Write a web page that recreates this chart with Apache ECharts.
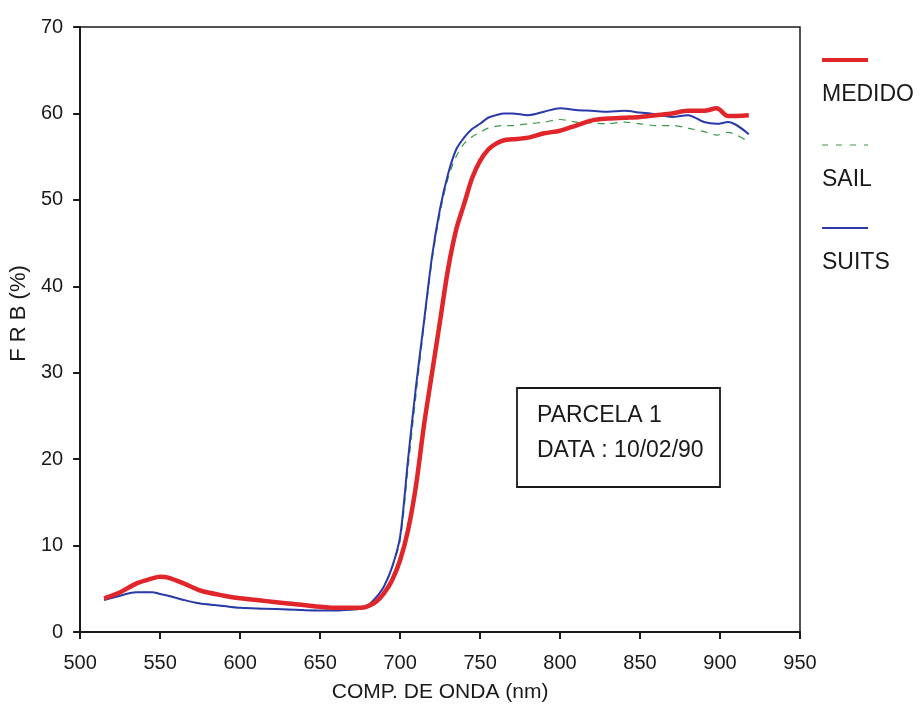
<!DOCTYPE html>
<html>
<head>
<meta charset="utf-8">
<script src="https://cdn.jsdelivr.net/npm/echarts@6/dist/echarts.min.js"></script>
<style>html,body{margin:0;padding:0;background:#fff}#c{width:920px;height:708px}</style>
</head>
<body>
<div id="c"></div>
<script>
const wavelengths = [515,525,535,545,550,555,565,575,590,600,615,630,645,660,670,675,680,685,690,695,700,705,710,715,720,725,730,735,740,745,750,755,760,765,770,780,790,800,810,820,830,840,850,860,870,880,890,898,905,918];
const medido = [3.9,4.6,5.6,6.2,6.4,6.3,5.6,4.8,4.2,3.9,3.6,3.3,3.0,2.8,2.8,2.8,3.0,3.5,4.5,6.0,8.3,11.8,17,24,30,36,42,46.5,49.5,52.5,54.5,55.8,56.5,56.9,57.0,57.2,57.7,58.0,58.6,59.2,59.4,59.5,59.6,59.8,60.0,60.3,60.3,60.6,59.7,59.8];
const sail   = [3.7,4.2,4.6,4.6,4.4,4.2,3.7,3.3,3.0,2.8,2.7,2.6,2.5,2.5,2.6,2.7,3.1,4.0,5.3,7.5,10.5,19,27.5,35.5,43,48.5,52.5,55,56.5,57.3,57.8,58.3,58.5,58.6,58.6,58.8,59.0,59.3,59.0,58.9,58.8,59.0,58.8,58.6,58.6,58.3,57.9,57.5,57.8,56.7];
const suits  = [3.7,4.2,4.6,4.6,4.4,4.2,3.7,3.3,3.0,2.8,2.7,2.6,2.5,2.5,2.6,2.7,3.1,4.0,5.3,7.5,11,20,28.5,36,43.5,49,53,55.8,57.2,58.2,58.8,59.5,59.8,60.0,60.0,59.8,60.2,60.6,60.4,60.3,60.2,60.3,60.1,59.9,59.6,59.8,59.0,58.8,59.0,57.6];
const seriesNames = ['MEDIDO','SAIL','SUITS'];
const boxLines = ['PARCELA 1','DATA : 10/02/90'];

const pair = arr => wavelengths.map((w,i)=>[w,arr[i]]);
const font = 'Liberation Sans, Arial, sans-serif';
const ink = '#1a1a1a';
const chart = echarts.init(document.getElementById('c'));
chart.setOption({
  backgroundColor:'#fff',
  animation:false,
  grid:{left:80,right:120,top:27,bottom:76,show:true,borderColor:ink,borderWidth:1.5,backgroundColor:'transparent'},
  xAxis:{type:'value',min:500,max:950,interval:50,
    name:'COMP. DE ONDA (nm)',nameLocation:'middle',nameGap:50,
    nameTextStyle:{fontFamily:font,fontSize:21,color:ink},
    axisLine:{show:true,onZero:false,lineStyle:{color:ink,width:2}},
    axisTick:{show:true,inside:false,length:7,lineStyle:{color:ink,width:2}},
    axisLabel:{fontFamily:font,fontSize:20,color:ink,margin:21},
    splitLine:{show:false}},
  yAxis:{type:'value',min:0,max:70,interval:10,
    name:'F R B (%)',nameLocation:'middle',nameGap:44,nameRotate:90,
    nameTextStyle:{fontFamily:font,fontSize:22,color:ink,padding:[0,0,0,32]},
    axisLine:{show:true,lineStyle:{color:ink,width:2}},
    axisTick:{show:true,inside:false,length:7,lineStyle:{color:ink,width:2}},
    axisLabel:{fontFamily:font,fontSize:20,color:ink,margin:17},
    splitLine:{show:false}},
  series:[
    {name:seriesNames[1],type:'line',data:pair(sail),symbol:'none',smooth:0.3,z:2,
      lineStyle:{color:'#3a9a4a',width:1.2,type:[7,6]}},
    {name:seriesNames[2],type:'line',data:pair(suits),symbol:'none',smooth:0.3,z:3,
      lineStyle:{color:'#2a3aa8',width:2}},
    {name:seriesNames[0],type:'line',data:pair(medido),symbol:'none',smooth:0.3,z:4,
      lineStyle:{color:'#e0262a',width:4.5}}
  ],
  graphic:[
    {type:'line',shape:{x1:822,y1:60,x2:868,y2:60},style:{stroke:'#e0262a',lineWidth:4}},
    {type:'text',style:{x:822,y:95,text:seriesNames[0],font:'23px '+font,fill:ink,verticalAlign:'middle'}},
    {type:'line',shape:{x1:822,y1:145,x2:868,y2:145},style:{stroke:'#3a9a4a',lineWidth:1.2,lineDash:[6,8]}},
    {type:'text',style:{x:822,y:180,text:seriesNames[1],font:'23px '+font,fill:ink,verticalAlign:'middle'}},
    {type:'line',shape:{x1:822,y1:228,x2:868,y2:228},style:{stroke:'#2a3aa8',lineWidth:2}},
    {type:'text',style:{x:822,y:263,text:seriesNames[2],font:'23px '+font,fill:ink,verticalAlign:'middle'}},
    {type:'rect',shape:{x:517,y:388,width:203,height:99},style:{fill:'#fff',stroke:ink,lineWidth:1.8}},
    {type:'text',style:{x:537,y:416,text:boxLines[0],font:'23px '+font,fill:ink,verticalAlign:'middle'}},
    {type:'text',style:{x:537,y:451,text:boxLines[1],font:'23px '+font,fill:ink,verticalAlign:'middle'}}
  ]
});
</script>
</body>
</html>
